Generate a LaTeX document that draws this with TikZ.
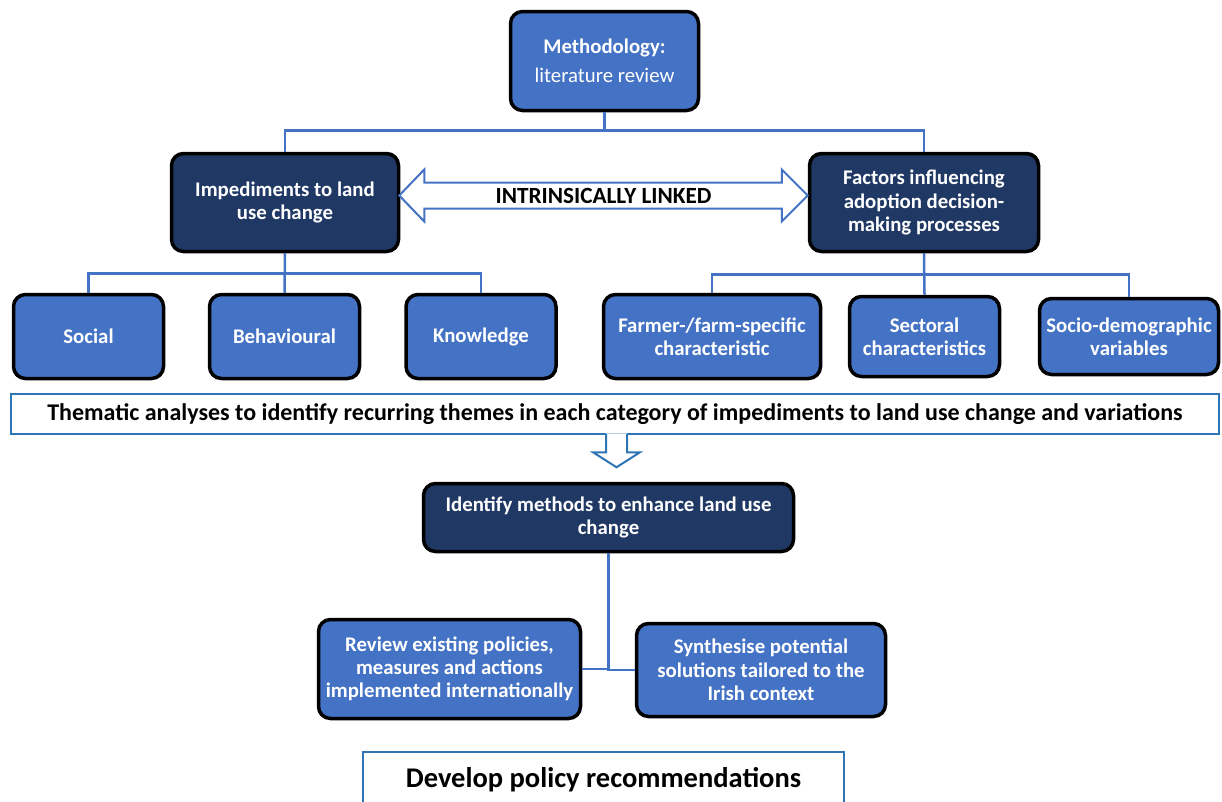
\documentclass[tikz,border=0pt]{standalone}
\usepackage{fontspec}
\setmainfont{Carlito}
\usetikzlibrary{calc}

\definecolor{boxblue}{HTML}{4472C4}
\definecolor{boxnavy}{HTML}{203864}
\definecolor{linkblue}{HTML}{4472C4}
\definecolor{frameblue}{HTML}{2E75B6}

\newcommand\boxfont{\fontsize{20.8}{23.3}\selectfont\bfseries}

\tikzset{
  basebox/.style={draw=black, line width=3.5pt, rounded corners=12pt,
    text=white, font=\boxfont, align=center, inner sep=2pt},
  midbox/.style={basebox, fill=boxblue},
  navybox/.style={basebox, fill=boxnavy},
  framebox/.style={draw=frameblue, line width=2.5pt, fill=white,
    text=black, align=center},
  link/.style={draw=linkblue, line width=2.5pt},
  fatarrow/.style={draw=linkblue, line width=2pt, line join=miter},
}

\begin{document}
\begin{tikzpicture}[x=1pt, y=-1pt]
    \useasboundingbox (0,0) rectangle (1222,801);

    % top level
    \node[midbox, minimum width=188, minimum height=99] (meth) at (604.5,61)
      {Methodology:\\[6pt]\mdseries literature review};
    \node[navybox, minimum width=227, minimum height=98] (imped) at (285,202.5)
      {Impediments to land\\use change};
    \node[navybox, minimum width=229, minimum height=98] (factor) at (924,202.5)
      {Factors influencing\\adoption decision-\\making processes};

    % impediment categories
    \node[midbox, minimum width=150, minimum height=84] (soc) at (88.5,336.5) {Social};
    \node[midbox, minimum width=150, minimum height=84] (beh) at ([shift={(196,0)}] soc) {Behavioural};
    \node[midbox, minimum width=150, minimum height=84] (kno) at ([shift={(196.5,0)}] beh) {Knowledge};

    % adoption factors
    \node[midbox, minimum width=217, minimum height=84] (farm) at (712,336.5)
      {Farmer-/farm-specific\\characteristic};
    \node[midbox, minimum width=150, minimum height=80] (sect) at ([shift={(212.5,0)}] farm)
      {Sectoral\\characteristics};
    \node[midbox, minimum width=179, minimum height=76] (demo) at ([shift={(204.5,0)}] sect)
      {Socio-demographic\\variables};

    % analysis and outcome
    \node[framebox, minimum width=1208, minimum height=40,
      font=\fontsize{24}{27}\selectfont\bfseries] (them) at (615,414)
      {Thematic analyses to identify recurring themes in each category of impediments to land use change and variations};
    \node[navybox, minimum width=370, minimum height=68] (ident) at (608.5,517.5)
      {Identify methods to enhance land use\\change};
    \node[midbox, minimum width=262, minimum height=99] (rev) at (449.5,669)
      {Review existing policies,\\measures and actions\\implemented internationally};
    \node[midbox, minimum width=249, minimum height=93] (syn) at (761,670)
      {Synthesise potential\\solutions tailored to the\\Irish context};
    \node[framebox, minimum width=481, minimum height=56,
      font=\fontsize{28.5}{32}\selectfont\bfseries] (dev) at (603.5,780)
      {Develop policy recommendations};

    % tree connectors
    \draw[link] (meth.south) -- ++(0,18) -| (imped.north);
    \draw[link] (meth.south) -- ++(0,18) -| (factor.north);
    \draw[link] (imped.south) -- (beh.north);
    \draw[link] (imped.south) -- ++(0,20) -| (soc.north);
    \draw[link] (imped.south) -- ++(0,20) -| (kno.north);
    \draw[link] (factor.south) -- (sect.north);
    \draw[link] (factor.south) -- ++(0,21) -| (farm.north);
    \draw[link] (factor.south) -- ++(0,21) -| (demo.north);
    \draw[link] (ident.south) |- (rev.east);
    \draw[link] (ident.south) |- (syn.west);

    % double arrow between the two themes
    \path (imped.east) ++(-1,-7) coordinate (lt);
    \path (factor.west) ++(0,-7) coordinate (rt);
    \draw[fatarrow] (lt) -- ++(25,-26) -- ++(0,13) -- ($(rt)+(-26,-13)$)
      -- ++(0,-13) -- (rt) -- ++(-26,26) -- ++(0,-13) -- ($(lt)+(25,13)$)
      -- ++(0,13) -- cycle;
    \node[font=\fontsize{23.2}{26}\selectfont\bfseries] (lnk) at ($(lt)!0.5!(rt)$)
      {INTRINSICALLY LINKED};

    % block arrow down from the analysis box
    \path (them.south) ++(1,0) coordinate (dn);
    \fill[white] ($(dn)+(-10,-2)$) -- ++(0,19) -- ++(-13,0) -- ++(23.5,15)
      -- ++(23.5,-15) -- ++(-13,0) -- ++(0,-19) -- cycle;
    \draw[fatarrow, draw=frameblue] ($(dn)+(-10,-1.2)$) -- ++(0,18.2) -- ++(-13,0)
      -- ++(23.5,15) -- ++(23.5,-15) -- ++(-13,0) -- ++(0,-18.2);
  \end{tikzpicture}
\end{document}
